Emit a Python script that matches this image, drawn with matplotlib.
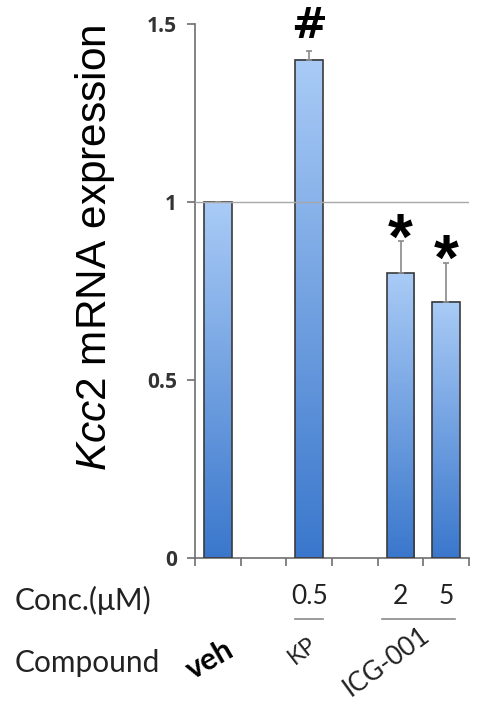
import numpy as np
import matplotlib.pyplot as plt
from matplotlib.colors import LinearSegmentedColormap
from matplotlib.transforms import blended_transform_factory

plt.rcParams['mathtext.fontset'] = 'custom'
plt.rcParams['mathtext.rm'] = 'Liberation Sans'
plt.rcParams['mathtext.it'] = 'Liberation Sans:italic'

# data
positions = [0, 2, 4, 5]
values = [1.0, 1.40, 0.80, 0.72]
errors = [0.0, 0.025, 0.09, 0.11]
marks = ["", "#", "*", "*"]
conc_labels = ["", "0.5", "2", "5"]

W, H = 484, 702
fig = plt.figure(figsize=(W / 100, H / 100), dpi=100)
ax = fig.add_axes([195 / W, 1 - 558 / H, 274 / W, 534 / H])

# gradient-filled bars
cmap = LinearSegmentedColormap.from_list("bar", ["#3a77cc", "#a9cbf6"])
grad = np.linspace(0, 1, 256).reshape(-1, 1)
width = 0.6
for x, v in zip(positions, values):
    ax.imshow(grad, cmap=cmap, origin="lower", aspect="auto",
              extent=(x - width / 2, x + width / 2, 0, v), zorder=2)
ax.bar(positions, values, width=width, facecolor="none",
       edgecolor="#3b3b3b", linewidth=1.2, zorder=3)
ax.set_xlim(-0.5, 5.5)
ax.set_ylim(0, 1.5)

# upward error bars
ax.errorbar(positions, values, yerr=[[0] * len(errors), errors], fmt="none",
            ecolor="#8a8a8a", elinewidth=1.2, capsize=2.5, capthick=1.2, zorder=4)

# reference line at 1
ax.axhline(1.0, color="#a8a8a8", linewidth=1.0, zorder=5)

# significance marks
for x, v, e, m in zip(positions, values, errors, marks):
    if m == "#":
        ax.text(x, v + e + 0.01, m, ha="center", va="bottom", fontsize=31,
                fontweight="bold", family="DejaVu Sans", zorder=6)
    elif m == "*":
        ax.text(x, v + e - 0.085, m, ha="center", va="bottom", fontsize=46,
                fontweight="bold", family="Liberation Sans", zorder=6)

for s in ["top", "right"]:
    ax.spines[s].set_visible(False)
for s in ["left", "bottom"]:
    ax.spines[s].set_color("#6e6e6e")
    ax.spines[s].set_linewidth(1.2)

ax.set_yticks([0, 0.5, 1, 1.5])
ax.set_yticklabels(["0", "0.5", "1", "1.5"], fontsize=15, fontweight="bold",
                   family="Open Sans", color="#333333")
ax.tick_params(axis="y", direction="out", length=6, width=1.2, color="#6e6e6e", pad=7)
ax.set_xticks(np.arange(-0.5, 6, 1))
ax.set_xticklabels([])
ax.tick_params(axis="x", direction="out", length=6, width=1.2, color="#6e6e6e")

fig.text(95 / W, 1 - 248 / H, r"$\mathit{Kcc2}$ mRNA expression", rotation=90,
         ha="center", va="center", fontsize=30.5, family="Liberation Sans")

# concentration row and compound labels
tr = blended_transform_factory(ax.transData, fig.transFigure)
fig.text(15 / W, 1 - 600 / H, "Conc.(\u03bcM)", ha="left", va="center",
         fontsize=21.5, family="Lato", color="#222222")
for x, c in zip(positions, conc_labels):
    if c:
        ax.text(x, 1 - 597 / H, c, transform=tr, ha="center", va="center",
                fontsize=19, family="Lato", color="#222222")
ax.plot([1.7, 2.3], [1 - 619 / H] * 2, transform=tr, color="#8a8a8a",
        linewidth=1.2, clip_on=False)
ax.plot([3.6, 5.2], [1 - 619 / H] * 2, transform=tr, color="#8a8a8a",
        linewidth=1.2, clip_on=False)

fig.text(15 / W, 1 - 663 / H, "Compound", ha="left", va="center",
         fontsize=21.5, family="Lato", color="#222222")
ax.text(-0.18, 1 - 660 / H, "veh", transform=tr, ha="center", va="center",
        rotation=30, fontsize=22, fontweight="bold", family="Lato")
ax.text(1.85, 1 - 651 / H, "KP", transform=tr, ha="center", va="center",
        rotation=38, fontsize=17, family="Lato", color="#222222")
ax.text(3.7, 1 - 662 / H, "ICG-001", transform=tr, ha="center", va="center",
        rotation=36, fontsize=19, family="Lato", color="#222222")

fig.savefig("out.png", dpi=100)
